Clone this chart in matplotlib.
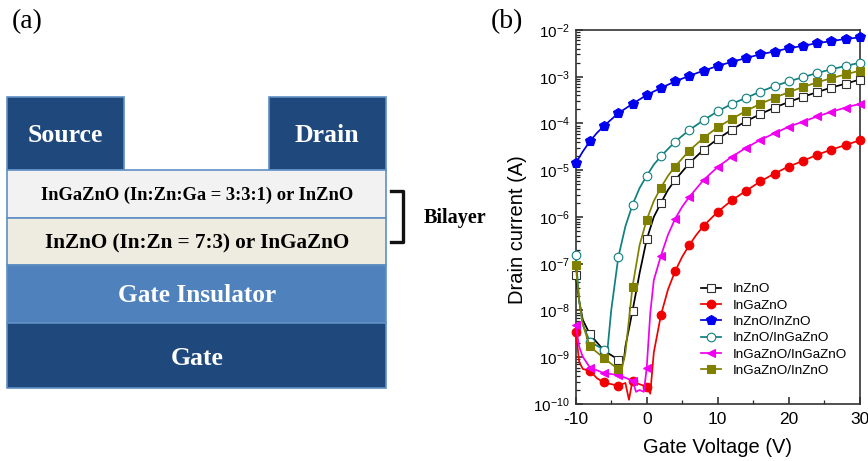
import math
import matplotlib
matplotlib.use("Agg")
import matplotlib.pyplot as plt
from matplotlib.patches import Rectangle
from matplotlib.ticker import FixedLocator, FuncFormatter, MultipleLocator

plt.rcParams['font.family'] = ['Liberation Sans', 'DejaVu Sans']
plt.rcParams['mathtext.fontset'] = 'custom'
plt.rcParams['mathtext.rm'] = 'Liberation Sans'
plt.rcParams['mathtext.default'] = 'regular'
plt.rcParams['axes.unicode_minus'] = False

# Marked points, one every 2 V, values are log10(drain current)
gate_v = [-10, -8, -6, -4, -2, 0, 2, 4, 6, 8, 10, 12, 14, 16, 18, 20, 22, 24, 26, 28, 30]

izo = [-7.24, -8.51, -8.86, -9.05, -8.01, -6.48, -5.70, -5.21, -4.85, -4.56, -4.33,
       -4.13, -3.95, -3.80, -3.66, -3.54, -3.43, -3.33, -3.23, -3.15, -3.06]
igzo = [-8.45, -9.29, -9.54, -9.61, -9.50, -9.63, -8.10, -7.16, -6.60, -6.19, -5.89,
        -5.64, -5.44, -5.24, -5.07, -4.92, -4.80, -4.67, -4.56, -4.46, -4.36]
izo_izo = [-4.85, -4.38, -4.05, -3.78, -3.58, -3.39, -3.24, -3.10, -2.98, -2.87, -2.77,
           -2.68, -2.60, -2.52, -2.46, -2.39, -2.34, -2.28, -2.24, -2.19, -2.16]
izo_igzo = [-6.81, -8.67, -8.84, -6.86, -5.74, -5.12, -4.70, -4.39, -4.14, -3.93, -3.74,
            -3.58, -3.45, -3.32, -3.20, -3.10, -3.01, -2.92, -2.84, -2.77, -2.70]
igzo_igzo = [-8.31, -9.22, -9.34, -9.38, -9.50, -9.23, -6.83, -6.04, -5.57, -5.21, -4.93,
             -4.71, -4.52, -4.35, -4.21, -4.07, -3.96, -3.85, -3.75, -3.66, -3.58]
igzo_izo = [-7.03, -8.77, -9.02, -9.26, -7.49, -6.06, -5.37, -4.92, -4.58, -4.31, -4.08,
            -3.90, -3.73, -3.58, -3.45, -3.33, -3.22, -3.12, -3.03, -2.95, -2.87]

# Extra unmarked points where the curves bend hard
izo_extra = {-9.5: -7.8, -9: -8.2, -3.2: -9.05, -3: -8.77, -1: -7.2, 1: -6.0, 3: -5.42}
igzo_extra = {-9.5: -9.1, -9: -9.25, -7: -9.45, -3: -9.55, -2.5: -9.91, -1.5: -9.55,
              0.5: -9.78, 1: -8.9, 3: -7.55, 5: -6.85, 7: -6.38}
izo_izo_extra = {-9: -4.6, -7: -4.2}
izo_igzo_extra = {-9.5: -7.8, -9: -8.3, -5.5: -8.8, -5: -8.0, -3: -6.2, -1: -5.38, 1: -4.88}
igzo_igzo_extra = {-9.5: -8.78, -9: -8.99, -1.5: -9.74, -1: -9.7, -0.4: -9.74, 0.5: -8.06,
                   1: -7.35, 3: -6.38, 5: -5.78}
igzo_izo_extra = {-9.5: -7.8, -9: -8.3, -3.5: -9.25, -3: -8.9, -1: -6.6, 1: -5.66, 3: -5.12}

series_names = ['InZnO', 'InGaZnO', 'InZnO/InZnO', 'InZnO/InGaZnO', 'InGaZnO/InGaZnO', 'InGaZnO/InZnO']
series_vals = [izo, igzo, izo_izo, izo_igzo, igzo_igzo, igzo_izo]
series_extra = [izo_extra, igzo_extra, izo_izo_extra, izo_igzo_extra, igzo_igzo_extra, igzo_izo_extra]
line_colors = ['black', '#f00000', '#0000e0', '#0f8080', '#f000f0', '#808000']
face_colors = ['white', '#f00000', '#0000f0', 'white', '#f000f0', '#808000']
edge_colors = ['#303030', '#f00000', '#0000f0', '#0f8080', '#f000f0', '#808000']
markers = ['s', 'o', 'p', 'o', '<', 's']

fig = plt.figure(figsize=(8.68, 4.61), dpi=100)

# (a) device stack, axes in image pixels
ax1 = fig.add_axes([0, 0, 1, 1])
ax1.set_xlim(0, 868)
ax1.set_ylim(461, 0)
ax1.axis('off')

serif = 'Liberation Serif'
ax1.text(12, 22, '(a)', family=serif, fontsize=20, ha='left', va='center')
ax1.text(491, 22, '(b)', family=serif, fontsize=20, ha='left', va='center')

# x, y, w, h, fill
blocks = [(7, 97, 117, 73, '#1f497d'), (269, 97, 117, 73, '#1f497d'),
          (7, 170, 379, 48, '#f2f2f2'), (7, 218, 379, 47, '#eeece1'),
          (7, 265, 379, 58, '#4f81bd'), (7, 323, 379, 65, '#1f497d')]
for x, y, w, h, c in blocks:
    ax1.add_patch(Rectangle((x, y), w, h, facecolor=c, edgecolor='#5f8fc4', linewidth=1.2))

ax1.text(65, 135, 'Source', family=serif, weight='bold', color='white', fontsize=18.5, ha='center', va='center')
ax1.text(327, 135, 'Drain', family=serif, weight='bold', color='white', fontsize=18.5, ha='center', va='center')
ax1.text(197, 195, 'InGaZnO (In:Zn:Ga = 3:3:1) or InZnO', family=serif, weight='bold', fontsize=13.3, ha='center', va='center')
ax1.text(197, 243, 'InZnO (In:Zn = 7:3) or InGaZnO', family=serif, weight='bold', fontsize=15.2, ha='center', va='center')
ax1.text(197, 295, 'Gate Insulator', family=serif, weight='bold', color='white', fontsize=18.2, ha='center', va='center')
ax1.text(197, 358, 'Gate', family=serif, weight='bold', color='white', fontsize=18.5, ha='center', va='center')
ax1.plot([391, 403, 403, 391], [191, 191, 242, 242], color='#111111', lw=2.4)
ax1.text(455, 218, 'Bilayer', family=serif, weight='bold', fontsize=14.5, ha='center', va='center')

# (b) transfer curves
ax2 = fig.add_axes([575.7 / 868, 1 - 404 / 461, 284 / 868, 374 / 461])
for i in range(6):
    pts = dict(zip(gate_v, series_vals[i]))
    pts.update(series_extra[i])
    xs = sorted(pts)
    ys = [10 ** pts[v] for v in xs]
    marked = [k for k, v in enumerate(xs) if v in gate_v]
    ax2.plot(xs, ys, color=line_colors[i], lw=1.25, marker=markers[i], markevery=marked,
             markersize=6.2 if markers[i] != 'p' else 7.2, markerfacecolor=face_colors[i],
             markeredgecolor=edge_colors[i], markeredgewidth=0.8, label=series_names[i],
             clip_on=False, zorder=3)

ax2.set_yscale('log')
ax2.set_xlim(-10, 30)
ax2.set_ylim(1e-10, 1e-2)
ax2.xaxis.set_major_locator(MultipleLocator(10))
ax2.xaxis.set_minor_locator(MultipleLocator(5))
ax2.yaxis.set_major_locator(FixedLocator([10.0 ** e for e in range(-10, -1)]))
ax2.yaxis.set_minor_locator(FixedLocator([m * 10.0 ** e for e in range(-10, -2) for m in range(2, 10)]))
ax2.yaxis.set_major_formatter(FuncFormatter(lambda v, p: '$10^{%d}$' % round(math.log10(v))))
ax2.yaxis.set_minor_formatter(FuncFormatter(lambda v, p: ''))
ax2.tick_params(which='major', direction='in', length=5, width=1.1, labelsize=11, color='#222222', pad=4.5)
ax2.tick_params(which='minor', direction='in', length=3, width=0.9, color='#222222')
ax2.tick_params(axis='x', pad=5.5, labelsize=12.5)
for side, spine in ax2.spines.items():
    spine.set_linewidth(1.2)
    spine.set_color('#333333')
ax2.set_xlabel('Gate Voltage (V)', fontsize=14.5, labelpad=8)
ax2.set_ylabel('Drain current (A)', fontsize=14.5)
ax2.yaxis.set_label_coords(-0.172, 0.465)

ax2.legend(loc='lower left', bbox_to_anchor=(0.44, 0.072), frameon=False, fontsize=9.7,
           labelspacing=0.29, handlelength=1.53, handletextpad=0.85, borderpad=0, borderaxespad=0)

fig.savefig('out.png', dpi=100)
